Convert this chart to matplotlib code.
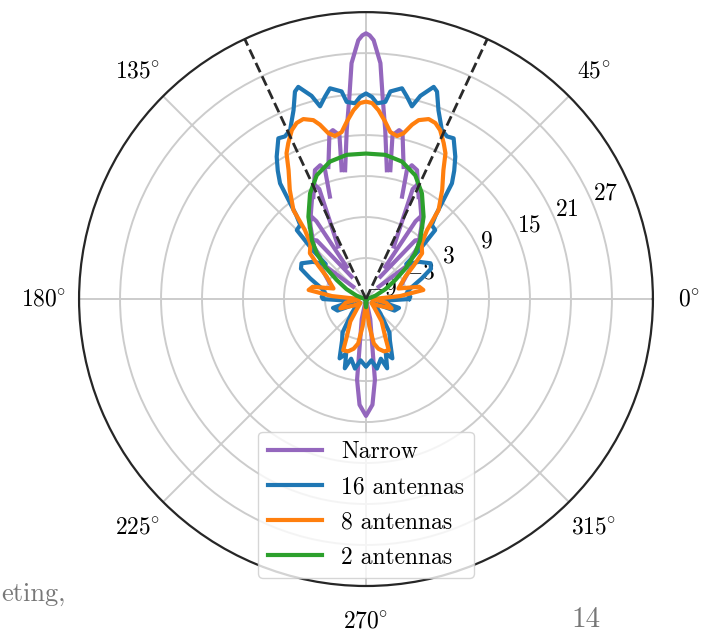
import numpy as np
import matplotlib
matplotlib.use('Agg')
import matplotlib.pyplot as plt

plt.rcParams['font.family'] = 'serif'
plt.rcParams['font.serif'] = ['cmr10']
plt.rcParams['mathtext.fontset'] = 'cm'
plt.rcParams['axes.formatter.use_mathtext'] = True

nan = np.nan

# beam patterns: angle in degrees, gain in dB
# narrow beams: one lobe per segment, segments split by nan
narrow_deg = [80.8, 83.5, 85.3, 86.5, 88.3, 89.2, 90, 90.8, 91.7, 93.5, 94.7, 96.5, 99.2, nan,
              100.7, 99.2, 101.1, 102.4, 105.9, nan,
              79.3, 80.8, 78.9, 77.6, 74.1, nan,
              109.4, 107.6, 108.9, 111.6, 117.3, nan,
              70.6, 72.4, 71.1, 68.4, 62.7, nan,
              117.9, 113, 114.1, 116, 127.8, nan,
              62.1, 67, 65.9, 64, 52.2, nan,
              120.9, 122.5, 123.4, 126, 133.4, nan,
              59.1, 57.5, 56.6, 54, 46.6, nan,
              122.7, 130, 131.8, 134, 137.4, nan,
              57.3, 50, 48.2, 46, 42.6, nan,
              136, 141, 142.2, 145, 156.4, nan,
              44, 39, 37.8, 35, 23.6, nan,
              250, 258, 263.7, 266.5, 270, 273.5, 276.3, 282, 290]
narrow_db = [10.1, 15.9, 20.7, 25.6, 28.9, 29.6, 29.9, 29.6, 28.9, 25.6, 20.7, 15.9, 10.1, nan,
             10.2, 15.3, 16.2, 15.9, 11.1, nan,
             10.2, 15.3, 16.2, 15.9, 11.1, nan,
             6.9, 10.8, 11.7, 11.3, 7.8, nan,
             6.9, 10.8, 11.7, 11.3, 7.8, nan,
             -0.3, 8.5, 9.3, 8.8, 4.4, nan,
             -0.3, 8.5, 9.3, 8.8, 4.4, nan,
             -3.5, 4.5, 5.4, 5.0, 2.2, nan,
             -3.5, 4.5, 5.4, 5.0, 2.2, nan,
             -5.1, 2.2, 2.6, 2.3, 0.2, nan,
             -5.1, 2.2, 2.6, 2.3, 0.2, nan,
             -6.4, -1.0, -0.5, -1.0, -3.2, nan,
             -6.4, -1.0, -0.5, -1.0, -3.2, nan,
             -9, -6, 2.9, 6.5, 8.1, 6.5, 2.9, -6, -9]

ant16_deg = [0, 3, 8, 13.6, 20.3, 25, 29, 35, 41, 42.5,
             44.9, 48.4, 50.3, 53.4, 55.5, 57.9, 61.4, 63.5, 65.8, 69, 71.1,
             72.3, 75, 76.6, 78.5, 80.3, 83.3, 84.4, 86.8, 88.3, 90,
             91.7, 93.2, 95.6, 96.7, 99.7, 101.5, 103.4, 105, 107.7, 108.9,
             111, 114.2, 116.5, 118.6, 122.1, 124.5, 126.6, 129.7, 131.6, 135.1, 137.5,
             139, 145, 151, 155, 159.7, 166.4, 172, 177, 180, 188,
             195, 202, 210, 218, 225, 235, 240, 246, 250, 253,
             256, 261, 265, 270, 275, 279, 284, 287, 290, 294,
             300, 305, 315, 322, 330, 338, 345, 352, 360]
ant16_db = [-2.7, -2.5, -3, -2.3, -0.3, 1.5, 1.8, 0.5, -1.2, 1.5,
            5.3, 5.5, 7.0, 12.1, 13.8, 15.6, 17.8, 17.6, 18.1, 20.6, 23.1,
            23.6, 21.8, 20.0, 21.2, 22.3, 21.6, 20.0, 19.7, 20.6, 21.1,
            20.6, 19.7, 20.0, 21.6, 22.3, 21.2, 20.0, 21.8, 23.6, 23.1,
            20.6, 18.1, 17.6, 17.8, 15.6, 13.8, 12.1, 7.0, 5.5, 5.3, 1.5,
            -1.2, 0.5, 1.8, 1.5, -0.3, -2.3, -3, -2.5, -2.7, -7,
            -4, -4.5, -8, -7, -6, -3, -2, 0.5, -0.5, 1.6,
            0, 1.3, 0, 0.9, 0, 1.3, 0, 1.6, -0.5, 0.5,
            -2, -3, -6, -7, -8, -4.5, -4, -7, -2.7]

ant8_deg = [0, 5, 9, 13, 18, 24, 29.6, 35, 39.2, 45,
            48.5, 50.8, 55.1, 59, 61.4, 63.5, 66.3, 68.5, 70.8, 73.6,
            75.2, 77.2, 79.2, 81.7, 83.8, 86.2, 88.2, 90, 91.8, 93.8,
            96.2, 98.3, 100.8, 102.8, 104.8, 106.4, 109.2, 111.5, 113.7, 116.5,
            118.6, 121, 124.9, 129.2, 131.5, 135, 140.8, 145, 150.4, 156,
            162, 167, 171, 175, 180, 190, 200, 208, 215, 228,
            235, 243, 246, 251, 256, 260, 263, 267, 270, 273,
            277, 280, 284, 289, 294, 297, 305, 312, 325, 332,
            340, 350, 360]
ant8_db = [-8, -4, -0.5, -1, -4, -3.3, -2.4, -0.5, 1.6, 2.5,
           4.5, 7.8, 10.5, 13.0, 15.3, 16.5, 18.0, 18.7, 18.9, 18.3,
           17.4, 15.9, 15.3, 15.7, 17.1, 18.7, 19.7, 19.9, 19.7, 18.7,
           17.1, 15.7, 15.3, 15.9, 17.4, 18.3, 18.9, 18.7, 18.0, 16.5,
           15.3, 13.0, 10.5, 7.8, 4.5, 2.5, 1.6, -0.5, -2.4, -3.3,
           -4, -1, -0.5, -4, -8, -6, -5, -7, -8, -7,
           -5, -2.8, -0.8, -0.9, -1.5, -2.4, -5, -8, -8.5, -8,
           -5, -2.4, -1.5, -0.9, -0.8, -2.8, -5, -7, -8, -7,
           -5, -6, -8]

ant2_deg = [0, 10, 20, 27, 33, 38, 42.8, 47.4, 55, 62.1,
            68.3, 75.3, 82.4, 90, 97.6, 104.7, 111.7, 117.9, 125, 132.6,
            137.2, 142, 147, 153, 160, 170, 180, 250, 262, 270,
            278, 290, 360]
ant2_db = [-9, -8.7, -7.5, -5.8, -3.9, -1.5, 0.8, 2.7, 5.7, 8.5,
           10.5, 11.8, 12.3, 12.3, 12.3, 11.8, 10.5, 8.5, 5.7, 2.7,
           0.8, -1.5, -3.9, -5.8, -7.5, -8.7, -9, -9, -8.5, -7.8,
           -8.5, -9, -9]

beam_edges = [65, 115]

rticks = [-9, -3, 3, 9, 15, 21, 27]
theta_ticks = [0, 45, 90, 135, 180, 225, 270, 315]

fig = plt.figure(figsize=(7.06, 6.32), dpi=100)
ax = fig.add_axes([0.1119, 0.0728, 0.813, 0.908], projection='polar')

ax.plot(np.radians(narrow_deg), narrow_db, color='#9467bd', lw=3.0, label='Narrow')
ax.plot(np.radians(ant16_deg), ant16_db, color='#1f77b4', lw=3.0, label='16 antennas')
ax.plot(np.radians(ant8_deg), ant8_db, color='#ff7f0e', lw=3.0, label='8 antennas')
ax.plot(np.radians(ant2_deg), ant2_db, color='#2ca02c', lw=3.0, label='2 antennas')
for a in beam_edges:
    ax.plot([np.radians(a), np.radians(a)], [-9, 33], color='#2a2a2a', lw=2.0, ls='--')

ax.set_ylim(-9, 33)
ax.set_rgrids(rticks, labels=['$%d$' % t if t >= 0 else '$-%d$' % -t for t in rticks], fontsize=17)
ax.set_thetagrids(theta_ticks, labels=['' if d == 90 else r'$%d\!^\circ$' % d for d in theta_ticks],
                  fontsize=17)
ax.tick_params(axis='x', pad=15)
ax.grid(True, color='#cccccc', lw=1.4)
ax.spines['polar'].set_color('#262626')
ax.spines['polar'].set_linewidth(1.6)

ax.legend(loc='lower center', bbox_to_anchor=(0.5, 0.014), borderaxespad=0, fontsize=17,
          handlelength=2.3, labelspacing=0.55, framealpha=0.8, edgecolor='#cccccc', fancybox=True)

fig.text(0.002, 0.05, 'eting,', fontsize=19, color='#777777')
fig.text(0.81, 0.008, '14', fontsize=21, color='#777777')

fig.savefig('out.png', dpi=100)
